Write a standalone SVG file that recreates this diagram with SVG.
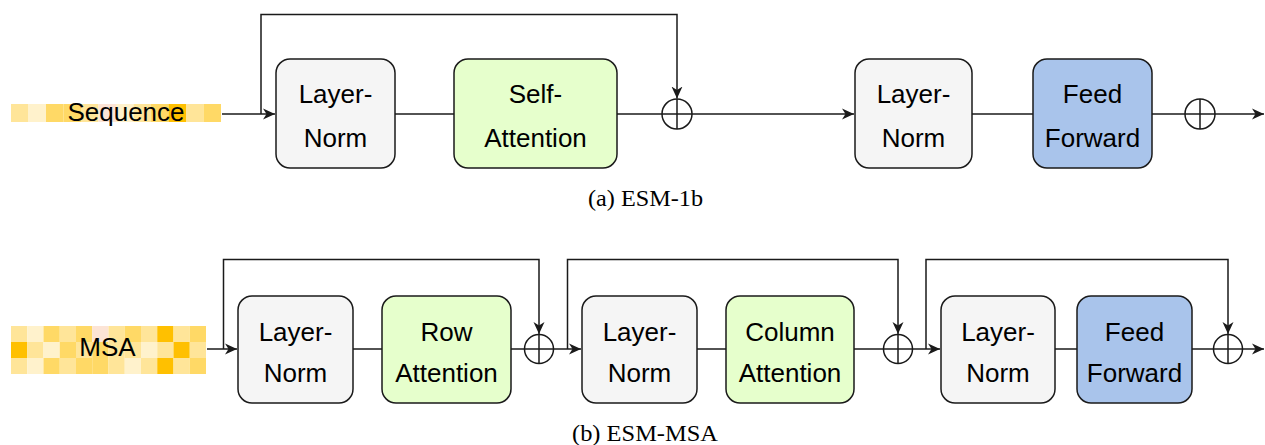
<svg xmlns="http://www.w3.org/2000/svg" width="1265" height="445" viewBox="0 0 1265 445">
<style>
.box{stroke:#1a1a1a;stroke-width:1.5}
.ln{fill:#f5f5f5}
.att{fill:#e6ffcc}
.ff{fill:#a9c4eb}
.lbl{font-family:"Liberation Sans",Arial,sans-serif;font-size:26px;fill:#000;text-anchor:middle}
.cap{font-family:"Liberation Serif","Times New Roman",serif;font-size:23px;fill:#000;text-anchor:middle}
.wire{fill:none;stroke:#1a1a1a;stroke-width:1.5}
.arr{marker-end:url(#ah)}
.sum circle{fill:#fff;stroke:#1a1a1a;stroke-width:1.5}
.sum path{stroke:#1a1a1a;stroke-width:1.5;fill:none}
.c0{fill:#ffe599}.c1{fill:#fff2cc}.c2{fill:#ffd966}.c3{fill:#ffc000}.c4{fill:#fce4d6}
</style>
<defs>
<marker id="ah" markerUnits="userSpaceOnUse" markerWidth="13" markerHeight="12" refX="12" refY="6" orient="auto">
<path d="M0,0.5 L12,6 L0,11.5 L3.5,6 z" fill="#1a1a1a"/>
</marker>
</defs>

<!-- (a) ESM-1b -->
<g id="sequence">
<rect class="c0" x="11" y="104" width="17.5" height="18"/>
<rect class="c1" x="28.5" y="104" width="17.5" height="18"/>
<rect class="c2" x="46" y="104" width="17.5" height="18"/>
<rect class="c2" x="63.5" y="104" width="17.5" height="18"/>
<rect class="c0" x="81" y="104" width="17.5" height="18"/>
<rect class="c4" x="98.5" y="104" width="17.5" height="18"/>
<rect class="c1" x="116" y="104" width="17.5" height="18"/>
<rect class="c0" x="133.5" y="104" width="17.5" height="18"/>
<rect class="c2" x="151" y="104" width="17.5" height="18"/>
<rect class="c3" x="168.5" y="104" width="17.5" height="18"/>
<rect class="c0" x="186" y="104" width="17.5" height="18"/>
<rect class="c2" x="203.5" y="104" width="17.5" height="18"/>
<text class="lbl" x="126" y="121" font-size="25">Sequence</text>
</g>
<g id="a-layernorm1">
<rect class="box ln" x="276" y="59" width="119" height="109" rx="14"/>
<text class="lbl" x="335.5" y="103">Layer-</text>
<text class="lbl" x="335.5" y="147">Norm</text>
</g>
<g id="a-selfattention">
<rect class="box att" x="454" y="59" width="163" height="109" rx="14"/>
<text class="lbl" x="535.5" y="103">Self-</text>
<text class="lbl" x="535.5" y="147">Attention</text>
</g>
<g id="a-sum1" class="sum"><circle cx="677" cy="114" r="15"/><path d="M662,114 H692 M677,99 V129"/></g>
<g id="a-layernorm2">
<rect class="box ln" x="855" y="59" width="117" height="109" rx="14"/>
<text class="lbl" x="913.5" y="103">Layer-</text>
<text class="lbl" x="913.5" y="147">Norm</text>
</g>
<g id="a-feedforward">
<rect class="box ff" x="1033" y="59" width="119" height="109" rx="14"/>
<text class="lbl" x="1092.5" y="103">Feed</text>
<text class="lbl" x="1092.5" y="147">Forward</text>
</g>
<g id="a-sum2" class="sum"><circle cx="1200" cy="114" r="15"/><path d="M1185,114 H1215 M1200,99 V129"/></g>
<text id="caption-a" class="cap" x="645.5" y="206" textLength="115" lengthAdjust="spacingAndGlyphs">(a) ESM-1b</text>

<!-- (b) ESM-MSA -->
<g id="msa">
<rect class="c0" x="11" y="326" width="16.25" height="16"/>
<rect class="c1" x="27.25" y="326" width="16.25" height="16"/>
<rect class="c2" x="43.5" y="326" width="16.25" height="16"/>
<rect class="c0" x="59.75" y="326" width="16.25" height="16"/>
<rect class="c2" x="76" y="326" width="16.25" height="16"/>
<rect class="c4" x="92.25" y="326" width="16.25" height="16"/>
<rect class="c0" x="108.5" y="326" width="16.25" height="16"/>
<rect class="c2" x="124.75" y="326" width="16.25" height="16"/>
<rect class="c0" x="141" y="326" width="16.25" height="16"/>
<rect class="c3" x="157.25" y="326" width="16.25" height="16"/>
<rect class="c0" x="173.5" y="326" width="16.25" height="16"/>
<rect class="c2" x="189.75" y="326" width="16.25" height="16"/>

<rect class="c3" x="11" y="342" width="16.25" height="16"/>
<rect class="c0" x="27.25" y="342" width="16.25" height="16"/>
<rect class="c1" x="43.5" y="342" width="16.25" height="16"/>
<rect class="c2" x="59.75" y="342" width="16.25" height="16"/>
<rect class="c0" x="76" y="342" width="16.25" height="16"/>
<rect class="c2" x="92.25" y="342" width="16.25" height="16"/>
<rect class="c0" x="108.5" y="342" width="16.25" height="16"/>
<rect class="c0" x="124.75" y="342" width="16.25" height="16"/>
<rect class="c1" x="141" y="342" width="16.25" height="16"/>
<rect class="c0" x="157.25" y="342" width="16.25" height="16"/>
<rect class="c3" x="173.5" y="342" width="16.25" height="16"/>
<rect class="c0" x="189.75" y="342" width="16.25" height="16"/>

<rect class="c0" x="11" y="358" width="16.25" height="16"/>
<rect class="c1" x="27.25" y="358" width="16.25" height="16"/>
<rect class="c2" x="43.5" y="358" width="16.25" height="16"/>
<rect class="c0" x="59.75" y="358" width="16.25" height="16"/>
<rect class="c2" x="76" y="358" width="16.25" height="16"/>
<rect class="c2" x="92.25" y="358" width="16.25" height="16"/>
<rect class="c0" x="108.5" y="358" width="16.25" height="16"/>
<rect class="c1" x="124.75" y="358" width="16.25" height="16"/>
<rect class="c0" x="141" y="358" width="16.25" height="16"/>
<rect class="c3" x="157.25" y="358" width="16.25" height="16"/>
<rect class="c0" x="173.5" y="358" width="16.25" height="16"/>
<rect class="c2" x="189.75" y="358" width="16.25" height="16"/>
<text class="lbl" x="107.5" y="356" font-size="25">MSA</text>
</g>
<g id="b-layernorm1">
<rect class="box ln" x="238" y="296" width="115" height="107" rx="14"/>
<text class="lbl" x="295.5" y="341">Layer-</text>
<text class="lbl" x="295.5" y="382">Norm</text>
</g>
<g id="b-rowattention">
<rect class="box att" x="382" y="296" width="129" height="107" rx="14"/>
<text class="lbl" x="446.5" y="341">Row</text>
<text class="lbl" x="446.5" y="382">Attention</text>
</g>
<g id="b-sum1" class="sum"><circle cx="539" cy="349" r="14.5"/><path d="M524.5,349 H553.5 M539,334.5 V363.5"/></g>
<g id="b-layernorm2">
<rect class="box ln" x="582" y="296" width="115" height="107" rx="14"/>
<text class="lbl" x="639.5" y="341">Layer-</text>
<text class="lbl" x="639.5" y="382">Norm</text>
</g>
<g id="b-columnattention">
<rect class="box att" x="726" y="296" width="128" height="107" rx="14"/>
<text class="lbl" x="790" y="341">Column</text>
<text class="lbl" x="790" y="382">Attention</text>
</g>
<g id="b-sum2" class="sum"><circle cx="898" cy="349" r="14.5"/><path d="M883.5,349 H912.5 M898,334.5 V363.5"/></g>
<g id="b-layernorm3">
<rect class="box ln" x="941" y="296" width="114" height="107" rx="14"/>
<text class="lbl" x="998" y="341">Layer-</text>
<text class="lbl" x="998" y="382">Norm</text>
</g>
<g id="b-feedforward">
<rect class="box ff" x="1077" y="296" width="115" height="107" rx="14"/>
<text class="lbl" x="1134.5" y="341">Feed</text>
<text class="lbl" x="1134.5" y="382">Forward</text>
</g>
<g id="b-sum3" class="sum"><circle cx="1228" cy="349" r="14.5"/><path d="M1213.5,349 H1242.5 M1228,334.5 V363.5"/></g>
<text id="caption-b" class="cap" x="645" y="441" textLength="146" lengthAdjust="spacingAndGlyphs">(b) ESM-MSA</text>

<g id="connectors">
<!-- (a) -->
<path class="wire arr" d="M222,114 H275"/>
<path class="wire arr" d="M261,114 V14.5 H677 V98.5"/>
<path class="wire" d="M395,114 H454"/>
<path class="wire" d="M617,114 H662"/>
<path class="wire arr" d="M692,114 H854"/>
<path class="wire" d="M972,114 H1033"/>
<path class="wire" d="M1152,114 H1185"/>
<path class="wire arr" d="M1215,114 H1264"/>
<!-- (b) -->
<path class="wire arr" d="M207,349 H237"/>
<path class="wire arr" d="M223.5,349 V259.5 H539 V334"/>
<path class="wire" d="M353,349 H382"/>
<path class="wire" d="M511,349 H524.5"/>
<path class="wire arr" d="M553.5,349 H581"/>
<path class="wire arr" d="M567.5,349 V259.5 H898 V334"/>
<path class="wire" d="M697,349 H726"/>
<path class="wire" d="M854,349 H883.5"/>
<path class="wire arr" d="M912.5,349 H940"/>
<path class="wire arr" d="M926,349 V259.5 H1228 V334"/>
<path class="wire" d="M1055,349 H1077"/>
<path class="wire" d="M1192,349 H1213.5"/>
<path class="wire arr" d="M1242.5,349 H1264"/>
</g>
</svg>
